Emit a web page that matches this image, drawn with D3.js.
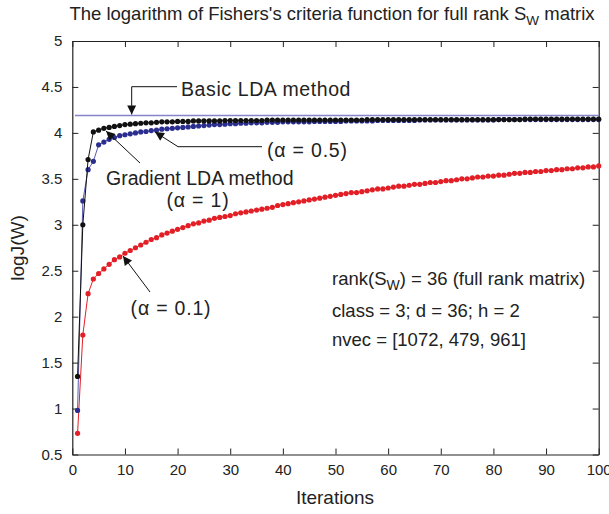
<!DOCTYPE html>
<html><head><meta charset="utf-8">
<script src="https://cdn.jsdelivr.net/npm/d3@7"></script>
<style>body{margin:0;background:#fff}svg{display:block;font-family:"Liberation Sans",Arial,sans-serif}</style>
</head><body><svg id="c" width="609" height="514"></svg>
<script>
const xTicks = [0,10,20,30,40,50,60,70,80,90,100];
const yTicks = [0.5,1,1.5,2,2.5,3,3.5,4,4.5,5];
const basicLDA = 4.19;
// alpha = 1 (black)
const alpha1 = [1.35,3.00,3.71,4.01,4.03,4.05,4.06,4.07,4.08,4.09,
4.095,4.10,4.105,4.11,4.11,4.115,4.12,4.12,4.12,4.125,
4.125,4.125,4.13,4.13,4.13,4.13,4.13,4.13,4.135,4.135,
4.135,4.135,4.135,4.135,4.135,4.135,4.14,4.14,4.14,4.14,
4.14,4.14,4.14,4.14,4.14,4.14,4.14,4.14,4.14,4.14,
4.14,4.14,4.14,4.14,4.14,4.145,4.145,4.145,4.145,4.145,
4.145,4.145,4.145,4.145,4.145,4.145,4.145,4.145,4.145,4.145,
4.145,4.145,4.145,4.145,4.145,4.145,4.145,4.145,4.145,4.145,
4.145,4.145,4.145,4.145,4.145,4.15,4.15,4.15,4.15,4.15,
4.15,4.15,4.15,4.15,4.15,4.15,4.15,4.15,4.15,4.15];
// alpha = 0.5 (blue)
const alpha05 = [0.98,3.26,3.60,3.69,3.87,3.90,3.93,3.95,3.97,3.98,
3.99,4.00,4.01,4.015,4.025,4.03,4.04,4.045,4.05,4.055,
4.06,4.065,4.07,4.075,4.08,4.085,4.09,4.09,4.095,4.10,
4.10,4.105,4.105,4.11,4.11,4.11,4.115,4.115,4.115,4.12,
4.12,4.12,4.12,4.12,4.12,4.125,4.125,4.125,4.125,4.125,
4.125,4.13,4.13,4.13,4.13,4.13,4.13,4.135,4.135,4.135,
4.135,4.135,4.135,4.135,4.135,4.14,4.14,4.14,4.14,4.14,
4.14,4.14,4.14,4.14,4.14,4.14,4.14,4.14,4.14,4.14,
4.145,4.145,4.145,4.145,4.145,4.145,4.145,4.145,4.145,4.145,
4.145,4.145,4.145,4.145,4.145,4.145,4.145,4.145,4.145,4.145];
// alpha = 0.1 (red)
const alpha01 = [0.73,1.80,2.25,2.41,2.47,2.52,2.57,2.62,2.65,2.69,
2.72,2.75,2.78,2.81,2.84,2.86,2.89,2.91,2.93,2.95,
2.97,2.99,3.01,3.02,3.04,3.05,3.07,3.08,3.09,3.10,
3.12,3.13,3.14,3.15,3.16,3.17,3.18,3.19,3.21,3.22,
3.23,3.24,3.25,3.26,3.27,3.28,3.29,3.30,3.31,3.32,
3.33,3.34,3.35,3.35,3.36,3.37,3.38,3.39,3.39,3.40,
3.41,3.42,3.42,3.43,3.44,3.44,3.45,3.46,3.46,3.47,
3.48,3.48,3.49,3.50,3.50,3.51,3.52,3.52,3.53,3.53,
3.54,3.54,3.55,3.56,3.56,3.57,3.57,3.58,3.58,3.59,
3.59,3.60,3.60,3.61,3.61,3.62,3.62,3.63,3.63,3.64];

const svg = d3.select("#c");
const L=72.3, R=598.7, T=41, B=454.5;
const x = d3.scaleLinear().domain([0,100]).range([L,R]);
const y = d3.scaleLinear().domain([0.5,5]).range([B,T]);

// frame + ticks
const fmt = d => String(d);
const gB = svg.append("g").attr("transform",`translate(0,${B})`)
  .call(d3.axisBottom(x).tickValues(xTicks).tickSizeInner(-6).tickSizeOuter(0).tickPadding(10).tickFormat(fmt));
const gT = svg.append("g").attr("transform",`translate(0,${T})`)
  .call(d3.axisTop(x).tickValues(xTicks).tickSizeInner(-6).tickSizeOuter(0).tickFormat(""));
const gL = svg.append("g").attr("transform",`translate(${L},0)`)
  .call(d3.axisLeft(y).tickValues(yTicks).tickSizeInner(-6).tickSizeOuter(0).tickPadding(10).tickFormat(fmt));
const gR = svg.append("g").attr("transform",`translate(${R},0)`)
  .call(d3.axisRight(y).tickValues(yTicks).tickSizeInner(-6).tickSizeOuter(0).tickFormat(""));
[gB,gT,gL,gR].forEach(g=>{
  g.select(".domain").attr("stroke","#222").attr("stroke-width",1.2);
  g.selectAll(".tick line").attr("stroke","#222");
  g.selectAll("text").attr("font-size",15).attr("fill","#222").attr("font-family","Liberation Sans, Arial, sans-serif");
});

// basic LDA line
svg.append("line").attr("x1",x(0.5)).attr("x2",R).attr("y1",y(basicLDA)).attr("y2",y(basicLDA))
  .attr("stroke","#8585cc").attr("stroke-width",1.6);

const series = [
  {v:alpha01, c:"#e21f26", lc:"#e21f26"},
  {v:alpha05, c:"#2b2e8f", lc:"#5a5cb0"},
  {v:alpha1, c:"#111111", lc:"#111111"}
];
const line = d3.line().x((d,i)=>x(i+1)).y(d=>y(d));
series.forEach(s=>{
  svg.append("path").datum(s.v).attr("d",line).attr("fill","none").attr("stroke",s.lc).attr("stroke-width",1);
  svg.append("g").selectAll("circle").data(s.v).join("circle")
    .attr("cx",(d,i)=>x(i+1)).attr("cy",d=>y(d)).attr("r",2.6).attr("fill",s.c);
});

// arrows
const defs = svg.append("defs");
defs.append("marker").attr("id","ah").attr("viewBox","0 0 10 10").attr("refX",10).attr("refY",5)
  .attr("markerWidth",11).attr("markerHeight",9).attr("markerUnits","userSpaceOnUse").attr("orient","auto")
  .append("path").attr("d","M0,0 L10,5 L0,10 z").attr("fill","#111");
function arrow(pts){
  svg.append("path").attr("d","M"+pts.map(p=>p.join(",")).join("L")).attr("fill","none")
    .attr("stroke","#111").attr("stroke-width",1).attr("marker-end","url(#ah)");
}
arrow([[177,86.7],[131.7,86.7],[131.7,y(basicLDA)-1]]);
arrow([[262,146.7],[178,146.7],[155,132]]);
arrow([[140,163],[106,131]]);
arrow([[150,292],[123,256]]);

// texts
const txt = (t,xx,yy,anchor,size,ls)=>svg.append("text").attr("x",xx).attr("y",yy).attr("text-anchor",anchor||"start")
  .attr("font-size",size||18.5).attr("letter-spacing",ls||0).attr("fill","#222").text(t);
txt("Basic LDA method",181,96,"start",19.5,0.6);
txt("(\u03b1 = 0.5)",267,157,"start",19.5,0.8);
txt("Gradient LDA method",106,185,"start",19.5);
txt("(\u03b1 = 1)",198,207,"middle",19.5,0.8);
txt("(\u03b1 = 0.1)",171,315,"middle",19.5,0.8);

const r1 = svg.append("text").attr("x",332).attr("y",285).attr("font-size",18.5).attr("fill","#222");
r1.append("tspan").text("rank(S");
r1.append("tspan").attr("font-size",14).attr("dy",5).text("W");
r1.append("tspan").attr("dy",-5).text(") = 36 (full rank matrix)");
txt("class = 3; d = 36; h = 2",332,317);
txt("nvec = [1072, 479, 961]",332,346);

// title
const tt = svg.append("text").attr("x",332).attr("y",20).attr("text-anchor","middle").attr("font-size",18.5).attr("fill","#222");
tt.append("tspan").text("The logarithm of Fishers's criteria function for full rank S");
tt.append("tspan").attr("font-size",13.5).attr("dy",5).text("W");
tt.append("tspan").attr("dy",-5).text(" matrix");

// axis labels
txt("Iterations",335,504,"middle",19);
svg.append("text").attr("transform","translate(24,248) rotate(-90)").attr("text-anchor","middle")
  .attr("font-size",19).attr("fill","#222").text("logJ(W)");
</script></body></html>
